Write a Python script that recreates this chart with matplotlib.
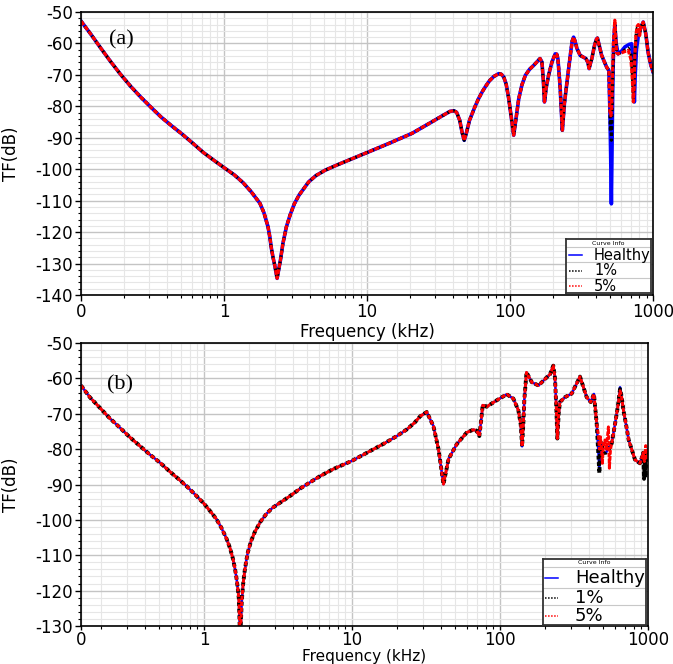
import numpy as np
import matplotlib.pyplot as plt
from matplotlib.ticker import LogLocator, MultipleLocator, NullFormatter

plt.rcParams["axes.unicode_minus"] = False
plt.rcParams["font.family"] = "DejaVu Sans"

################### DATA (a) ###################
# below ~490 kHz the three traces coincide
freq_a = [0.1, 0.116, 0.136, 0.16, 0.188, 0.222, 0.262, 0.31, 0.363, 0.43,
          0.505, 0.6, 0.713, 0.84, 1.0, 1.18, 1.36, 1.55, 1.78, 1.9,
          2.03, 2.09, 2.14, 2.2, 2.26, 2.35, 2.42, 2.48, 2.58, 2.73,
          2.9, 3.1, 3.35, 3.91, 4.4, 5.1, 6.2, 7.45, 10, 14.2,
          20.6, 28.5, 33, 38, 40.5, 42.3, 44.5, 46.3, 47.8, 49.5,
          52, 56.7, 60, 63.8, 68, 72, 77, 83.4, 87, 90.4,
          94, 97.9, 102, 106, 110, 115, 121, 128, 137, 146,
          162, 167, 171, 174, 179, 186, 196, 207, 212, 216,
          224, 232, 240, 250, 265, 272, 278, 285, 293, 309,
          339, 350, 357, 364, 373, 390, 402, 408, 416, 437,
          473, 491]
tf_a = [-52.9, -56.8, -61.2, -65.6, -69.7, -73.6, -77.1, -80.4, -83.4, -86.2,
        -88.7, -91.6, -94.6, -97.0, -99.5, -101.8, -104.3, -107.2, -110.8, -113.8,
        -118.3, -121.5, -125.0, -128.0, -130.5, -134.7, -131.5, -128.9, -123.6, -118.3,
        -114.5, -111.0, -108.2, -104.0, -102.0, -100.3, -98.6, -97.1, -94.7, -91.8,
        -88.6, -84.9, -83.2, -81.6, -81.4, -81.9, -84.5, -88.5, -90.8, -88.5,
        -84.5, -80.2, -77.7, -75.4, -73.4, -71.8, -70.5, -69.6, -69.8, -70.7,
        -73.0, -77.6, -83.5, -89.2, -84.0, -77.6, -73.2, -70.1, -68.2, -67.0,
        -64.8, -65.9, -72.0, -78.6, -74.0, -70.1, -66.0, -63.3, -63.4, -64.8,
        -74.0, -87.6, -79.0, -72.3, -63.0, -59.2, -58.0, -59.3, -61.5, -63.8,
        -64.8, -66.0, -68.0, -66.5, -64.8, -60.5, -58.6, -58.3, -59.8, -63.8,
        -67.5, -68.6]

f_a_healthy = [499, 505, 511, 516, 522, 530, 540, 552, 569, 600, 635, 680, 708,
               722, 732, 740, 750, 765, 789, 820, 853, 890, 922, 960, 1000]
tf_a_healthy = [-81.8, -95, -111, -95, -75, -60, -54.2, -60, -63.3, -62.5, -61.1,
                -60.3, -60.1, -65, -72, -78.6, -70, -62, -57.4, -55, -53.2, -57,
                -62.7, -66.5, -69.1]

f_a_1pct = [499, 503, 507, 511, 515, 522, 533, 540, 548, 556, 569, 600, 640, 671,
            700, 715, 728, 737, 745, 760, 775, 789, 805, 820, 853, 890, 922, 960, 1000]
tf_a_1pct = [-81.5, -88, -84, -90.8, -85, -72, -59, -54, -58.5, -63, -63.3, -62.8,
             -62, -61.5, -63, -69, -78, -74, -64, -57.5, -55, -55, -57, -55, -53.2,
             -57, -62.7, -66.5, -69.1]

f_a_5pct = [499, 507, 513, 520, 528, 534, 540, 548, 556, 569, 600, 640, 671, 700,
            715, 728, 737, 745, 760, 775, 789, 805, 820, 853, 890, 922, 960, 1000]
tf_a_5pct = [-81.5, -83, -81, -70, -60, -56, -52.6, -58, -63, -63.3, -63, -62.5,
             -62.2, -65, -71, -78.6, -74, -64, -57, -54.5, -54, -57.5, -55, -53.2,
             -57, -62.7, -66.5, -69.1]

################### DATA (b) ###################
freq_b = [0.1477, 0.17, 0.198, 0.23, 0.27, 0.315, 0.369, 0.43, 0.504, 0.586,
          0.68, 0.76, 0.87, 1.0, 1.1, 1.21, 1.31, 1.42, 1.5, 1.57,
          1.62, 1.66, 1.69, 1.72, 1.755, 1.80, 1.84, 1.88, 1.93, 1.98,
          2.08, 2.2, 2.4, 2.64, 2.9, 3.25, 3.8, 4.48, 5.2, 6.1,
          7.5, 10, 13.3, 16.5, 20.1, 23.5, 26.5, 28.9, 32, 35.5,
          38.4, 41.5, 44.9, 51, 59.6, 66, 69.6, 72.5, 74.5, 76.4,
          81.3, 95, 111, 123, 133, 138, 141, 144, 146, 151,
          164, 182, 207, 218, 229, 235, 240, 244, 249, 254,
          275, 305, 347, 385, 410, 431, 450]
tf_b = [-62.0, -65.4, -68.3, -71.2, -73.9, -76.6, -79.1, -81.5, -83.8, -86.3,
        -88.6, -90.4, -92.8, -95.4, -97.5, -99.7, -102.2, -105.3, -108.0, -111.0,
        -113.8, -116.6, -119.2, -122.2, -134.0, -123.0, -118.0, -114.7, -111.6, -109.1,
        -106.0, -103.5, -100.6, -98.3, -96.6, -95.2, -93.3, -91.1, -89.4, -87.6,
        -85.6, -83.3, -80.5, -78.4, -76.3, -74.4, -72.5, -70.7, -69.5, -73.5,
        -80.0, -89.9, -82.8, -78.6, -75.3, -74.5, -74.8, -76.3, -72.0, -67.6,
        -68.0, -66.2, -64.5, -65.7, -69.0, -73.0, -79.2, -72.0, -66.0, -58.3,
        -61.1, -62.0, -59.7, -58.8, -56.4, -59.7, -68.0, -77.0, -70.0, -66.7,
        -65.3, -64.3, -59.5, -65.3, -66.7, -64.4, -72.8]

f_b_healthy = [469, 477, 485, 498, 520, 545, 569, 599, 625, 647, 662, 682, 710,
               740, 817, 882, 928, 950, 1000]
tf_b_healthy = [-85.5, -78.5, -78.3, -81, -81, -79.5, -78, -72.8, -68, -62.5, -65,
                -69, -73, -77.4, -83, -84, -81, -83, -80]

f_b_1pct = [469, 477, 485, 498, 520, 545, 569, 599, 625, 647, 662, 682, 710, 740,
            817, 882, 915, 928, 940, 950, 960, 975, 1000]
tf_b_1pct = [-86.8, -78, -78.3, -81.1, -81, -80, -78.3, -72.8, -68, -63, -65, -69,
             -73, -77.4, -83, -84, -82, -81, -88.4, -83, -88, -82, -80]

f_b_5pct = [462, 469, 477, 485, 492, 498, 512, 522, 540, 548, 558, 569, 599, 625,
            647, 662, 682, 710, 740, 817, 882, 928, 945, 965, 985, 1000]
tf_b_5pct = [-76, -80, -76.5, -80, -84, -79, -77.4, -80, -73.7, -85.4, -80, -78.3,
             -72.8, -68, -63.5, -65, -69, -73, -77.4, -83, -84, -81, -83.5, -79,
             -83, -79.5]

keys = [("Healthy", "#0000ff", "-"), ("1%", "black", (0, (1, 1))),
        ("5%", "#ff0000", (0, (1, 1)))]


def style_axes(ax, xmin, ymin, ymax):
    ax.set_xscale("log")
    ax.set_xlim(xmin, 1000)
    ax.set_ylim(ymin, ymax)
    ax.set_xticks([xmin, 1, 10, 100, 1000])
    ax.set_xticklabels(["0", "1", "10", "100", "1000"])
    ax.xaxis.set_minor_locator(LogLocator(base=10, subs=np.arange(2, 10)))
    ax.xaxis.set_minor_formatter(NullFormatter())
    ax.yaxis.set_major_locator(MultipleLocator(10))
    ax.yaxis.set_minor_locator(MultipleLocator(2))
    ax.grid(which="major", color="#c4c4c4", lw=1.0)
    ax.grid(which="minor", color="#e6e6e6", lw=0.8)
    ax.set_axisbelow(True)
    ax.tick_params(which="major", length=4, width=1, labelsize=12, pad=2)
    ax.tick_params(which="minor", length=2.5, width=0.8)
    for s in ax.spines.values():
        s.set_linewidth(1.2)
    ax.set_ylabel("TF(dB)", fontsize=12)


def curve_info(ax, rect, fs, ytitle, yseps, yrows, hx, tx):
    box = ax.inset_axes(rect)
    box.set_zorder(10)
    box.set_xlim(0, 1)
    box.set_ylim(0, 1)
    box.set_xticks([])
    box.set_yticks([])
    for s in box.spines.values():
        s.set_color("#333333")
        s.set_linewidth(1.3)
    box.text(0.5, ytitle, "Curve Info", fontsize=4.5, ha="center", va="center")
    for y in yseps:
        box.axhline(y, color="#c8c8c8", lw=0.8)
    for (label, color, ls), y in zip(keys, yrows):
        box.plot(hx, [y, y], color=color, ls=ls, lw=1.1)
        box.text(tx, y, label, fontsize=fs, ha="left", va="center")


fig = plt.figure(figsize=(6.73, 6.64), dpi=100)

################### PANEL (a) ###################
ax = fig.add_axes((0.1204, 0.5557, 0.85, 0.4262))
style_axes(ax, 0.1, -140, -50)
ax.plot(np.concatenate([freq_a, f_a_healthy]), np.concatenate([tf_a, tf_a_healthy]),
        color="#0000ff", lw=2.6)
ax.plot(np.concatenate([freq_a, f_a_1pct]), np.concatenate([tf_a, tf_a_1pct]),
        color="black", lw=2.2, ls=(0, (1, 1)))
ax.plot(np.concatenate([freq_a, f_a_5pct]), np.concatenate([tf_a, tf_a_5pct]),
        color="#ff0000", lw=2.3, ls=(0, (1.5, 0.5)))
ax.text(0.07, 0.901, "(a)", transform=ax.transAxes, fontsize=16,
        family="Liberation Serif", ha="center", va="center")
ax.set_xlabel("Frequency (kHz)", fontsize=12)
ax.yaxis.set_label_coords(-0.107, 0.5)
ax.xaxis.set_label_coords(0.5, -0.099)
curve_info(ax, (0.847, 0.008, 0.149, 0.19), 10.5, 0.92, [0.845, 0.566, 0.28],
           [0.70, 0.41, 0.125], [0.04, 0.19], 0.335)

################### PANEL (b) ###################
ax = fig.add_axes((0.1204, 0.0572, 0.8425, 0.4262))
style_axes(ax, 0.1477, -130, -50)
ax.tick_params(axis="x", which="major", length=3, pad=0.5)
ax.plot(np.concatenate([freq_b, f_b_healthy]), np.concatenate([tf_b, tf_b_healthy]),
        color="#0000ff", lw=1.8)
ax.plot(np.concatenate([freq_b, f_b_1pct]), np.concatenate([tf_b, tf_b_1pct]),
        color="black", lw=2.8, ls=(0, (1, 0.7)))
ax.plot(np.concatenate([freq_b, f_b_5pct]), np.concatenate([tf_b, tf_b_5pct]),
        color="#ff0000", lw=2.1, ls=(0, (1.5, 0.5)))
ax.text(0.069, 0.853, "(b)", transform=ax.transAxes, fontsize=16,
        family="Liberation Serif", ha="center", va="center")
ax.set_xlabel("Frequency (kHz)", fontsize=11, va="bottom")
ax.yaxis.set_label_coords(-0.108, 0.5)
ax.xaxis.set_label_coords(0.5, -0.1325)
curve_info(ax, (0.814, 0.0025, 0.182, 0.236), 13, 0.936, [0.871, 0.565, 0.297],
           [0.713, 0.416, 0.134], [0.022, 0.151], 0.313)

fig.savefig("out.png", dpi=100)
